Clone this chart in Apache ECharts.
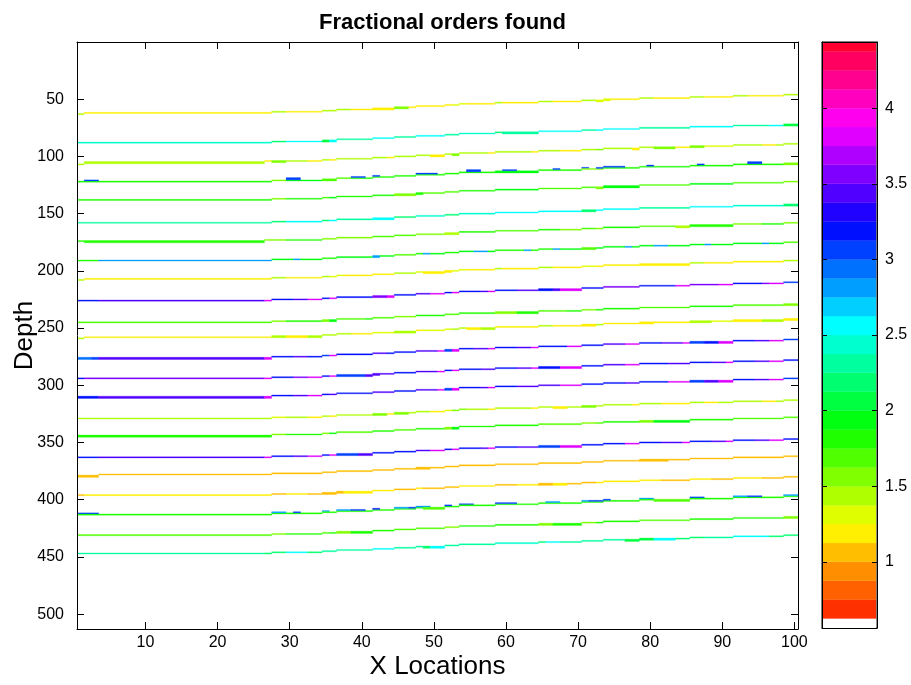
<!DOCTYPE html>
<html><head><meta charset="utf-8">
<script src="https://cdn.jsdelivr.net/npm/echarts@6/dist/echarts.min.js"></script>
<style>html,body{margin:0;padding:0;background:#fff}#c{width:911px;height:685px}</style>
</head><body><div id="c"></div>
<script>
// ---------------- data ----------------
const xTicks = [10, 20, 30, 40, 50, 60, 70, 80, 90, 100];
const yTicks = [50, 100, 150, 200, 250, 300, 350, 400, 450, 500];
const cbarTicks = [1, 1.5, 2, 2.5, 3, 3.5, 4];
// centres of the 32 colour-map levels shown in the colour bar
const cbarLevels = [0.5625, 0.6875, 0.8125, 0.9375, 1.0625, 1.1875, 1.3125, 1.4375,
  1.5625, 1.6875, 1.8125, 1.9375, 2.0625, 2.1875, 2.3125, 2.4375,
  2.5625, 2.6875, 2.8125, 2.9375, 3.0625, 3.1875, 3.3125, 3.4375,
  3.5625, 3.6875, 3.8125, 3.9375, 4.0625, 4.1875, 4.3125, 4.4375];
// columns at which every reflector steps up by one depth sample (dip)
const stepCols = [28, 35, 37, 42, 45, 48, 52, 54, 59, 65, 71, 74, 79, 86, 92, 99];
// depth (sample) of each reflector on the flat left part
const lineDepth = [62, 88, 105, 122, 138, 158, 174, 191, 207, 226, 245, 258,
  276, 294, 310, 329, 344, 363, 378, 396, 413, 431, 447];
// per reflector: [firstCol, lastCol, fractional order, rowOffset, rows]
const lineRuns = [
  [[1,1,1.44,1],[2,27,1.19],[28,29,1.44],[30,34,1.19],[35,38,1.44],[39,41,1.19],[42,44,1.19,0,2],[45,46,1.56,0,2],[47,52,1.19],[53,54,1.31],[55,58,1.19],[59,59,1.44],[60,64,1.19],[65,66,1.44],[67,70,1.19],[71,72,1.44],[73,74,1.31,0,2],[75,78,1.19],[79,80,1.44],[81,85,1.19],[86,87,1.44],[88,91,1.19],[92,93,1.44],[94,98,1.19],[99,100,1.44]],
  [[1,27,2.44],[28,29,2.19],[30,34,2.56],[35,35,2.06,0,2],[36,36,2.56,0,2],[37,41,2.31],[42,44,2.56],[45,47,2.31],[48,51,2.56],[52,53,2.31],[54,58,2.44],[59,59,2.19],[60,64,2.31,0,2],[65,70,2.56],[71,72,2.31],[73,78,2.56],[79,85,2.31],[86,91,2.56],[92,96,2.31],[97,98,2.56],[99,100,2.06,0,2]],
  [[1,1,1.44,2],[2,26,1.44,0,2],[27,27,1.19,-1],[28,29,1.56,0,2],[30,32,1.44],[33,34,1.19],[35,35,1.44],[36,36,1.19],[37,43,1.44],[44,44,1.19],[45,49,1.44],[50,51,1.19,0,2],[52,52,1.44],[53,53,1.56,0,2],[54,57,1.44],[58,58,1.19],[59,63,1.44],[64,64,1.19],[65,67,1.44],[68,70,1.19],[71,72,1.44],[73,73,1.56],[74,77,1.44],[78,78,1.19,0,2],[79,80,1.44],[81,83,1.56,0,2],[84,85,1.19],[86,87,1.56,0,2],[88,91,1.31],[92,95,1.44],[96,97,1.19],[98,100,1.44]],
  [[1,27,1.81],[2,3,3.06,-1],[28,29,1.56],[30,34,1.94],[30,31,3.06,-2,2],[35,36,1.69,0,2],[37,38,1.69],[39,41,1.81],[39,40,3.06,-1],[42,47,1.81],[42,42,3.06,-1],[48,53,1.81],[48,49,3.06,-1],[50,50,3.06,-1],[54,58,1.81],[55,56,3.06,-2,2],[59,64,1.94,0,2],[60,61,3.06,-1],[65,70,1.81],[67,67,3.06,-1],[71,71,3.06,-1],[71,73,1.56],[73,73,3.06,-1],[74,78,1.81],[74,76,3.06,-1],[79,85,1.81],[80,80,3.06,-1],[86,91,1.81],[87,87,3.06,-1],[92,98,1.81],[94,95,3.06,-2,2],[99,100,1.56,0,2]],
  [[1,27,1.81],[28,29,1.56],[30,34,1.81],[35,35,1.69],[36,36,1.94],[37,44,1.81],[45,47,1.56,0,2],[48,48,1.81,0,2],[49,53,1.69],[54,58,1.81],[59,64,1.94],[65,72,1.69],[73,73,1.56,0,2],[74,78,1.94,0,2],[79,85,1.69],[86,91,1.94],[92,98,1.69],[99,100,1.56]],
  [[1,27,2.31],[28,29,2.19],[30,34,2.56],[35,35,2.19],[36,36,2.56],[37,41,2.31],[42,44,2.56,0,2],[45,47,2.19],[48,51,2.44],[52,53,2.19],[54,58,2.44],[59,70,2.56],[71,72,2.19,0,2],[73,78,2.56],[79,85,2.31],[86,91,2.56],[92,98,2.44],[99,100,2.19,0,2]],
  [[1,1,1.81],[2,26,1.81,0,2],[27,27,1.56,-1],[28,29,1.56],[30,34,1.81],[35,41,1.56],[42,47,1.69],[48,51,1.56],[52,53,1.44,0,2],[54,58,1.81],[59,64,1.69],[65,67,1.81],[68,70,1.56],[71,72,1.69],[73,73,1.56],[74,78,1.81],[79,83,1.69],[84,85,1.44,0,2],[86,91,1.81,0,2],[92,95,1.56],[96,98,1.81],[99,100,1.56]],
  [[1,3,1.81],[4,27,2.81],[28,30,1.94],[31,31,2.81],[32,34,1.94],[35,36,1.81],[37,41,1.94],[42,42,2.81,0,2],[43,44,1.94],[45,47,1.69],[48,48,1.81],[49,49,2.81],[50,51,1.94],[52,53,1.81],[54,55,1.94],[56,57,2.81],[58,58,1.94],[59,62,1.81],[63,63,2.81],[64,66,1.81],[67,67,2.81],[68,70,1.94],[71,72,1.69,0,2],[73,76,1.94],[77,77,2.81],[78,80,1.94],[81,82,2.81],[83,87,1.94],[88,88,2.81],[89,95,1.94],[96,96,2.81],[97,98,1.94],[99,100,1.69]],
  [[1,1,1.44,1],[2,27,1.19],[28,29,1.44],[30,34,1.19],[35,35,1.44],[36,37,1.31],[38,44,1.19],[45,47,1.44],[48,48,1.31],[49,52,1.19,0,2],[53,54,1.31],[55,58,1.19],[59,59,1.44],[60,64,1.19],[65,66,1.44],[67,70,1.19],[71,72,1.31],[73,78,1.19],[79,85,1.19,0,2],[86,87,1.44],[88,98,1.19],[99,100,1.44]],
  [[1,3,3.19],[4,26,3.44],[27,27,3.81],[28,30,3.19],[31,32,3.44],[33,34,3.81],[35,35,3.19],[36,36,3.81],[37,41,3.19],[42,43,3.56,0,2],[44,44,3.81,0,2],[45,47,3.19],[48,49,3.44],[50,51,3.81],[52,52,3.19],[53,53,3.81],[54,56,3.19],[57,57,3.44],[58,58,3.81],[59,61,3.19],[62,64,3.44],[65,66,3.19,0,2],[67,67,3.44,0,2],[68,70,3.81,0,2],[71,73,3.19],[74,78,3.56],[79,83,3.19],[84,85,3.81],[86,89,3.56],[90,91,3.81],[92,95,3.19],[96,96,3.56],[97,98,3.81],[99,100,3.06]],
  [[1,27,1.69],[28,29,1.56],[30,34,1.81],[35,35,1.56,0,2],[36,36,1.94,0,2],[37,40,1.69],[41,41,1.81],[42,44,1.69],[45,47,1.56],[48,51,1.81],[52,53,1.69],[54,58,1.81],[59,61,1.56,0,2],[62,64,1.81,0,2],[65,68,1.69],[69,70,1.81],[71,72,1.56],[73,78,1.81],[79,85,1.69],[86,91,1.81],[92,98,1.69],[99,100,1.56,0,2]],
  [[1,1,1.44,1],[2,27,1.19],[28,29,1.44,0,2],[30,32,1.19,0,2],[33,34,1.44,0,2],[35,38,1.44],[39,41,1.19],[42,44,1.31],[45,47,1.44,0,2],[48,48,1.19],[49,52,1.31],[53,54,1.44],[55,56,1.19,0,2],[57,58,1.44,0,2],[59,64,1.19],[65,66,1.44],[67,70,1.19],[71,72,1.19,0,2],[73,73,1.44],[74,78,1.19],[79,80,1.19,0,2],[81,85,1.19],[86,88,1.44,0,2],[89,91,1.31],[92,95,1.19,0,2],[96,98,1.44,0,2],[99,100,1.19,0,2]],
  [[1,2,2.94,0,2],[3,3,3.06,0,2],[4,26,3.44,0,2],[27,27,3.81,0,2],[28,30,3.19],[31,32,3.44],[33,34,3.19],[35,35,3.06],[36,36,3.81],[37,41,3.19],[42,43,3.44],[44,47,3.19],[48,50,3.44],[51,51,3.81],[52,52,3.06,0,2],[53,53,3.81,0,2],[54,55,3.19],[56,57,3.44],[58,58,3.81],[59,61,3.19],[62,63,3.44],[64,64,3.81],[65,68,3.19],[69,70,3.81],[71,73,3.19],[74,76,3.44],[77,78,3.81],[79,81,3.19],[82,84,3.44],[85,85,3.81],[86,87,3.06,0,2],[88,89,3.19,0,2],[90,91,3.81,0,2],[92,94,3.19],[95,96,3.44],[97,98,3.81],[99,100,3.06]],
  [[1,1,3.19],[2,26,3.56],[27,27,3.81],[28,30,3.19],[31,32,3.56],[33,34,3.81],[35,35,3.19],[36,36,3.81],[37,40,3.06,0,2],[41,42,3.44,0,2],[43,44,3.44],[45,47,3.19],[48,50,3.44],[51,51,3.81],[52,52,3.19],[53,53,3.81],[54,56,3.19],[57,58,3.44],[59,61,3.19],[62,63,3.44],[64,64,3.81],[65,67,3.19,0,2],[68,70,3.81,0,2],[71,73,3.19],[74,76,3.44],[77,78,3.81],[79,82,3.19],[83,85,3.44],[86,88,3.19],[89,90,3.44],[91,91,3.81],[92,94,3.19],[95,96,3.44],[97,98,3.81],[99,100,3.19]],
  [[1,3,3.19,0,2],[4,26,3.44,0,2],[27,27,3.81,0,2],[28,30,3.19],[31,32,3.44],[33,34,3.81],[35,35,3.19],[36,36,3.44],[37,41,3.19],[42,44,3.44],[45,47,3.19],[48,50,3.44],[51,51,3.81],[52,52,3.06,0,2],[53,53,3.81,0,2],[54,56,3.19],[57,57,3.44],[58,58,3.81],[59,61,3.19],[62,67,3.44],[68,70,3.81],[71,76,3.19],[77,78,3.44],[79,82,3.19],[83,85,3.81],[86,87,3.06,0,2],[88,89,3.44,0,2],[90,91,3.81,0,2],[92,94,3.19],[95,96,3.44],[97,98,3.81],[99,100,3.06]],
  [[1,27,1.44],[28,29,1.31],[30,32,1.44],[33,34,1.19],[35,35,1.44],[36,36,1.19],[37,41,1.44],[42,43,1.56,0,2],[44,44,1.19],[45,46,1.56,0,2],[47,49,1.44],[50,51,1.19],[52,52,1.31],[53,54,1.56],[55,57,1.44],[58,58,1.19],[59,63,1.44],[64,64,1.19],[65,66,1.44],[67,68,1.19,0,2],[69,70,1.44],[71,72,1.56,0,2],[73,77,1.44],[78,78,1.19],[79,81,1.44],[82,85,1.19],[86,87,1.44],[88,89,1.19],[90,95,1.44],[96,97,1.19],[98,100,1.44]],
  [[1,27,1.81,0,2],[28,29,1.56],[30,34,1.81],[35,35,1.56],[36,36,1.94],[37,41,1.69],[42,44,1.81],[45,47,1.69],[48,51,1.81],[52,52,1.56,0,2],[53,53,1.94,0,2],[54,64,1.81],[65,70,1.69],[71,72,1.56],[73,73,1.69],[74,78,1.81],[79,80,1.56,0,2],[81,85,1.94,0,2],[86,91,1.81],[92,100,1.69]],
  [[1,3,3.19],[4,26,3.44],[27,27,3.81],[28,30,3.19],[31,32,3.44],[33,34,3.81],[35,35,3.19],[36,36,3.81],[37,39,3.06,0,2],[40,41,3.44,0,2],[42,47,3.19],[48,49,3.44],[50,51,3.81],[52,52,3.19],[53,53,3.81],[54,56,3.19],[57,57,3.44],[58,58,3.81],[59,61,3.19],[62,64,3.44],[65,67,3.06,0,2],[68,70,3.81,0,2],[71,76,3.19],[77,78,3.81],[79,81,3.19],[82,84,3.44],[85,85,3.81],[86,88,3.19],[89,90,3.44],[91,91,3.81],[92,94,3.19],[95,96,3.44],[97,98,3.81],[99,100,3.19]],
  [[1,3,1.06,1,2],[4,47,1.06],[48,49,1.06,0,2],[50,78,1.06],[79,82,1.06,0,2],[83,100,1.06]],
  [[1,1,1.06],[2,27,1.19],[28,29,1.06],[30,32,1.19],[33,34,1.06],[35,37,1.06,0,2],[38,41,1.19,0,2],[42,44,1.19],[45,47,1.06],[48,48,1.19],[49,53,1.06],[54,58,1.19],[59,61,1.06],[62,64,1.19],[65,66,1.06,0,2],[67,68,1.19,0,2],[69,72,1.06],[73,81,1.19],[82,85,1.06],[86,88,1.19],[89,91,1.06],[92,95,1.19],[96,100,1.06]],
  [[1,3,3.06,-1],[1,29,1.81],[28,29,2.81,-1],[30,34,1.81],[31,31,3.06,-1],[35,35,2.81,-1],[35,47,1.81],[37,38,2.81,-1],[39,40,3.06,-1],[42,42,3.19,-1],[45,46,2.81,-1],[47,47,3.06,-1],[48,48,1.81],[48,49,2.81,-1],[49,51,1.69,0,2],[52,53,1.81],[52,52,3.06,-1],[54,55,3.06,-1],[54,78,1.81],[59,61,3.06,-1],[66,67,2.81,-1],[71,71,2.81,-1],[72,72,3.06,-1],[73,74,3.06,-1],[79,80,2.81,-1],[79,80,1.81],[81,85,1.69,0,2],[86,87,3.06,-1],[86,100,1.81],[92,93,2.81,-1],[94,95,3.06,-1],[99,100,2.81,-1]],
  [[1,27,1.69],[28,29,1.56],[30,34,1.81],[35,35,1.69],[36,36,1.81],[37,38,1.56,0,2],[39,41,1.81,0,2],[42,44,1.81],[45,51,1.69],[52,53,1.56],[54,64,1.81],[65,66,1.56,0,2],[67,70,1.81,0,2],[71,72,1.56],[73,78,1.81],[79,85,1.69],[86,98,1.81],[99,100,1.56,0,2]],
  [[1,26,2.31],[27,29,2.19],[30,32,2.56],[33,34,2.19],[35,41,2.31],[42,44,2.56],[45,48,2.31],[49,49,2.19,0,2],[50,51,2.56,0,2],[52,58,2.31],[59,64,2.44],[65,65,2.19],[66,67,2.56],[68,76,2.31],[77,80,2.06,0,2],[81,83,2.56,0,2],[84,87,2.19],[88,91,2.31],[92,96,2.56],[97,100,2.19]]
];

// ---------------- colour map (hsv(32), lowest entry white) ----------------
const C_MIN = 0.5625, C_MAX = 4.4375, C_STEP = 0.125, N_COLORS = 32;
function hsvHex(h) {
  const i = Math.floor(h * 6), f = h * 6 - i, q = 1 - f;
  const m = [[1, f, 0], [q, 1, 0], [0, 1, f], [0, q, 1], [f, 0, 1], [1, 0, q]][i % 6];
  return '#' + m.map(c => Math.round(c * 255).toString(16).padStart(2, '0')).join('');
}
function colorOf(v) {
  let k = Math.round((v - C_MIN) / C_STEP);
  k = Math.max(0, Math.min(N_COLORS - 1, k));
  return k === 0 ? '#ffffff' : hsvHex(k / N_COLORS);
}
function shiftAt(c) { let s = 0; for (const sc of stepCols) if (c >= sc) s++; return s; }

const cells = [];
lineRuns.forEach((runs, i) => {
  runs.forEach(r => {
    const [c0, c1, v, dy = 0, rows = 1] = r;
    let start = c0;
    for (let c = c0; c <= c1; c++) {
      if (c === c1 || shiftAt(c + 1) !== shiftAt(c)) {
        cells.push([start, c, lineDepth[i] - shiftAt(c) + dy, v, rows]);
        start = c + 1;
      }
    }
  });
});

function renderCell(params, api) {
  const c0 = api.value(0), c1 = api.value(1), row = api.value(2), v = api.value(3), rows = api.value(4);
  const p0 = api.coord([c0 - 0.5, row - 0.5]);
  const p1 = api.coord([c1 + 0.5, row + rows - 0.5]);
  return {
    type: 'rect',
    shape: { x: Math.min(p0[0], p1[0]), y: Math.min(p0[1], p1[1]), width: Math.abs(p1[0] - p0[0]), height: Math.abs(p1[1] - p0[1]) },
    style: { fill: colorOf(v), stroke: colorOf(v), lineWidth: 0.3 }
  };
}
function renderBand(params, api) {
  const v = api.value(1);
  const p0 = api.coord([0, v + C_STEP / 2]);
  const p1 = api.coord([1, v - C_STEP / 2]);
  return {
    type: 'rect',
    shape: { x: p0[0] + 1, y: p0[1], width: p1[0] - p0[0] - 2, height: p1[1] - p0[1] },
    style: { fill: colorOf(v), stroke: colorOf(v), lineWidth: 0.3 }
  };
}

const FONT = 'Liberation Sans, Arial, Helvetica, sans-serif';
const axLine = { show: true, onZero: false, lineStyle: { color: '#000', width: 1 } };
const tick = (len, vals) => ({ show: true, inside: true, length: len, lineStyle: { color: '#000', width: 1 }, customValues: vals });
const lbl = (vals, margin) => ({ show: true, color: '#000', fontSize: 16, fontFamily: FONT, margin: margin, customValues: vals });

const chart = echarts.init(document.getElementById('c'), null, { renderer: 'canvas' });
chart.setOption({
  backgroundColor: '#fff',
  animation: false,
  title: {
    text: 'Fractional orders found', left: 437.5, top: 7, textAlign: 'center',
    textStyle: { fontSize: 22, fontWeight: 'bold', color: '#000', fontFamily: FONT }
  },
  grid: [
    { left: 77, right: 113, top: 42, bottom: 56, outerBoundsMode: 'none', containLabel: false },
    { left: 822, right: 34, top: 42, bottom: 57, outerBoundsMode: 'none', containLabel: false,
      show: true, borderColor: '#000', borderWidth: 1, backgroundColor: 'transparent' }
  ],
  xAxis: [
    { gridIndex: 0, type: 'value', min: 0.5, max: 100.5, position: 'bottom', z: 5,
      axisLine: axLine, axisTick: tick(7, xTicks), axisLabel: lbl(xTicks, 6), splitLine: { show: false },
      name: 'X Locations', nameLocation: 'middle', nameGap: 25, nameMoveOverlap: false,
      nameTextStyle: { fontSize: 26, color: '#000', fontFamily: FONT } },
    { gridIndex: 0, type: 'value', min: 0.5, max: 100.5, position: 'top', z: 5,
      axisLine: axLine, axisTick: tick(7, xTicks), axisLabel: { show: false }, splitLine: { show: false } },
    { gridIndex: 1, type: 'value', min: 0, max: 1, position: 'bottom', z: 5,
      axisLine: axLine, axisTick: { show: false }, axisLabel: { show: false }, splitLine: { show: false } },
    { gridIndex: 1, type: 'value', min: 0, max: 1, position: 'top', z: 5,
      axisLine: axLine, axisTick: { show: false }, axisLabel: { show: false }, splitLine: { show: false } }
  ],
  yAxis: [
    { gridIndex: 0, type: 'value', min: 0, max: 513, inverse: true, position: 'left', z: 5,
      axisLine: axLine, axisTick: tick(7, yTicks), axisLabel: lbl(yTicks, 13), splitLine: { show: false },
      name: 'Depth', nameLocation: 'middle', nameGap: 39, nameMoveOverlap: false,
      nameTextStyle: { fontSize: 26, color: '#000', fontFamily: FONT } },
    { gridIndex: 0, type: 'value', min: 0, max: 513, inverse: true, position: 'right', z: 5,
      axisLine: axLine, axisTick: tick(7, yTicks), axisLabel: { show: false }, splitLine: { show: false } },
    { gridIndex: 1, type: 'value', min: C_MIN, max: C_MAX, position: 'right', z: 5,
      axisLine: axLine, axisTick: tick(5, cbarTicks), axisLabel: lbl(cbarTicks, 8), splitLine: { show: false } },
    { gridIndex: 1, type: 'value', min: C_MIN, max: C_MAX, position: 'left', z: 5,
      axisLine: axLine, axisTick: tick(5, cbarTicks), axisLabel: { show: false }, splitLine: { show: false } }
  ],
  series: [
    { type: 'custom', xAxisIndex: 0, yAxisIndex: 0, clip: true, silent: true,
      encode: { x: [0, 1], y: 2 }, renderItem: renderCell, data: cells, z: 1 },
    { type: 'custom', xAxisIndex: 2, yAxisIndex: 2, clip: true, silent: true,
      encode: { x: 0, y: 1 }, renderItem: renderBand, data: cbarLevels.map(v => [0, v]), z: 1 }
  ]
});
</script></body></html>
